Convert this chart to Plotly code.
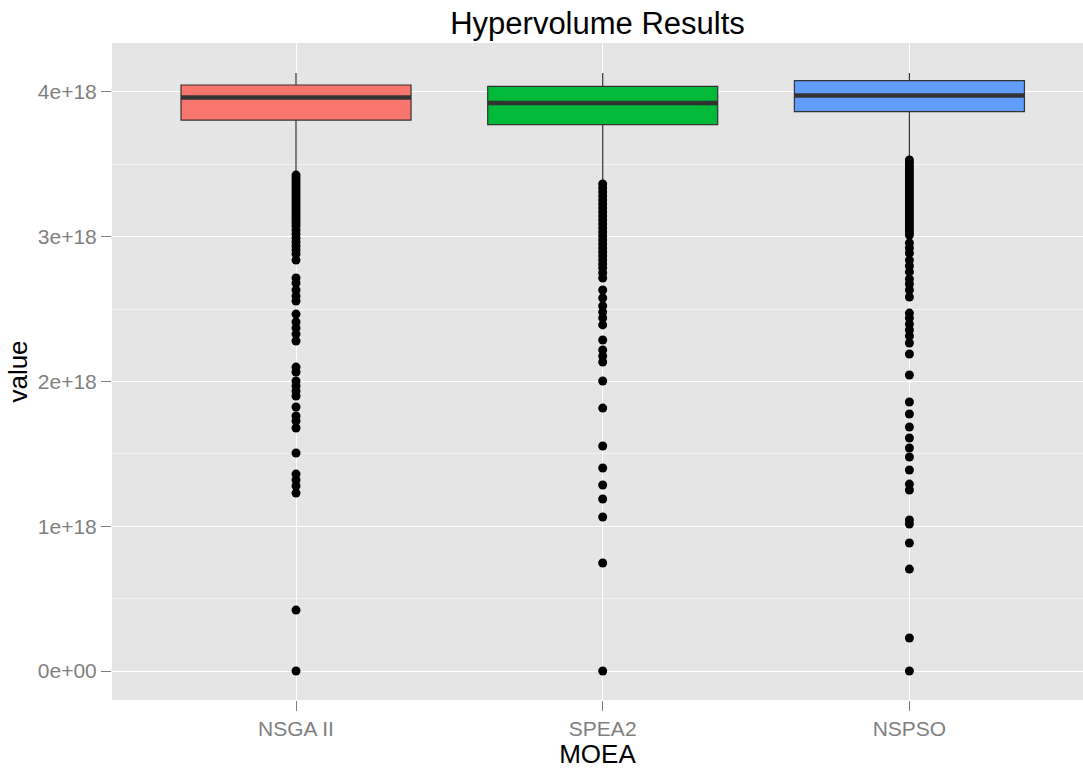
import plotly.graph_objects as go

# ---------------- data ----------------
categories = ["NSGA II", "SPEA2", "NSPSO"]
fill_colors = ["#F8766D", "#00BA38", "#619CFF"]

lower_whisker = [3.450e18, 3.391e18, 3.550e18]
q1_values = [3.805e18, 3.774e18, 3.863e18]
median_values = [3.961e18, 3.923e18, 3.974e18]
q3_values = [4.047e18, 4.037e18, 4.077e18]
upper_whisker = [4.130e18, 4.130e18, 4.130e18]

outliers_nsga2 = [3.425, 3.405, 3.384, 3.363, 3.343, 3.322, 3.301, 3.280, 3.260, 3.239,
                  3.218, 3.198, 3.177, 3.156, 3.135, 3.115, 3.094, 3.073, 3.046, 3.018,
                  2.990, 2.963, 2.935, 2.907, 2.880, 2.838, 2.714, 2.680, 2.631, 2.590,
                  2.555, 2.465, 2.410, 2.369, 2.327, 2.279, 2.099, 2.065, 2.003, 1.968,
                  1.934, 1.899, 1.823, 1.761, 1.727, 1.678, 1.506, 1.360, 1.319, 1.278,
                  1.229, 0.421, 0.0]
outliers_spea2 = [3.363, 3.336, 3.308, 3.280, 3.253, 3.225, 3.198, 3.170, 3.142, 3.115,
                  3.087, 3.059, 3.032, 3.004, 2.977, 2.949, 2.921, 2.894, 2.866, 2.838,
                  2.811, 2.783, 2.749, 2.714, 2.631, 2.576, 2.521, 2.479, 2.438, 2.390,
                  2.286, 2.217, 2.175, 2.134, 2.003, 1.816, 1.554, 1.402, 1.285, 1.188,
                  1.064, 0.746, 0.0]
outliers_nspso = [3.529, 3.508, 3.488, 3.467, 3.446, 3.425, 3.405, 3.384, 3.363, 3.343,
                  3.322, 3.301, 3.280, 3.260, 3.239, 3.218, 3.198, 3.177, 3.156, 3.135,
                  3.115, 3.094, 3.073, 3.052, 3.032, 3.011, 2.956, 2.921, 2.887, 2.838,
                  2.797, 2.756, 2.707, 2.673, 2.631, 2.583, 2.472, 2.438, 2.396, 2.355,
                  2.314, 2.265, 2.189, 2.044, 1.858, 1.775, 1.685, 1.609, 1.540, 1.478,
                  1.388, 1.291, 1.250, 1.043, 1.015, 0.884, 0.704, 0.228, 0.0]
outlier_scale = 1e18
outliers = [outliers_nsga2, outliers_spea2, outliers_nspso]

y_tick_values = [0, 1e18, 2e18, 3e18, 4e18]
y_tick_labels = ["0e+00", "1e+18", "2e+18", "3e+18", "4e+18"]

# ---------------- figure ----------------
BOX_W = 0.75
LINE = "#333333"
fig = go.Figure()

for i, cat in enumerate(categories):
    fig.add_trace(go.Box(
        x=[i], q1=[q1_values[i]], median=[median_values[i]], q3=[q3_values[i]],
        lowerfence=[lower_whisker[i]], upperfence=[upper_whisker[i]],
        width=BOX_W, fillcolor=fill_colors[i],
        line=dict(color=LINE, width=1.2), whiskerwidth=0,
        boxpoints=False, hoverinfo="skip", showlegend=False, name=cat,
    ))
    # thick median line (ggplot style)
    fig.add_trace(go.Scatter(
        x=[i - BOX_W / 2, i + BOX_W / 2], y=[median_values[i], median_values[i]],
        mode="lines", line=dict(color=LINE, width=4.5),
        hoverinfo="skip", showlegend=False,
    ))
    fig.add_trace(go.Scatter(
        x=[i] * len(outliers[i]), y=[v * outlier_scale for v in outliers[i]],
        mode="markers", marker=dict(color="black", size=9, line=dict(width=0)),
        hoverinfo="skip", showlegend=False,
    ))

FONT = "Liberation Sans, Arial, sans-serif"
W, H = 1083, 769
fig.update_layout(
    width=W, height=H,
    margin=dict(l=112, r=0, t=43, b=69),
    paper_bgcolor="white", plot_bgcolor="#E5E5E5",
    font=dict(family=FONT, color="black"),
    title=dict(text="Hypervolume Results", x=(112 + W) / 2 / W, xanchor="center",
               y=1 - 23 / H, yanchor="middle", font=dict(size=31, color="black")),
    showlegend=False,
)
fig.update_xaxes(
    range=[-0.6, 2.566], tickvals=[0, 1, 2], ticktext=categories,
    showgrid=True, gridcolor="white", gridwidth=1.4, zeroline=False,
    ticks="outside", ticklen=10, tickcolor="#7F7F7F", tickwidth=1,
    tickfont=dict(size=21, color="#7F7F7F"),
    title=dict(text="MOEA", font=dict(size=26, color="black"), standoff=4),
    showline=False, automargin=False,
)
fig.update_yaxes(
    range=[-0.200e18, 4.337e18], tickvals=y_tick_values, ticktext=y_tick_labels,
    showgrid=True, gridcolor="white", gridwidth=1.4, zeroline=False,
    ticks="outside", ticklen=10, tickcolor="#7F7F7F", tickwidth=1,
    tickfont=dict(size=21, color="#7F7F7F"),
    minor=dict(dtick=0.5e18, tick0=0, showgrid=True, gridcolor="#F2F2F2", gridwidth=0.7, ticks=""),
    title=dict(text="value", font=dict(size=26, color="black"), standoff=2),
    showline=False, automargin=False,
)

# remove the browser's default 8px body margin so the figure fills the window
fig.write_html("out.html", config={"displayModeBar": False},
               post_script="document.body.style.margin='0';")
